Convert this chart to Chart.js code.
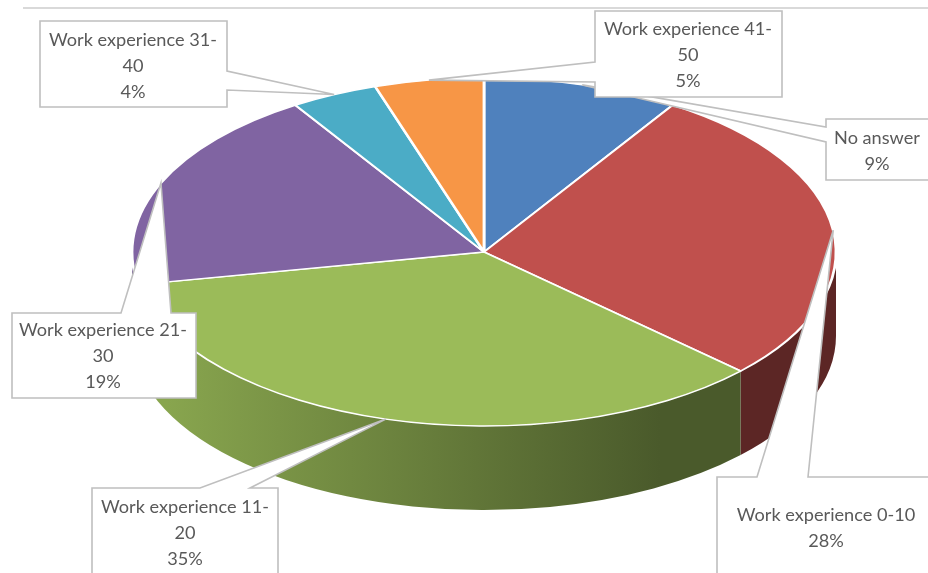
<!DOCTYPE html>
<html><head><meta charset="utf-8">
<script src="https://cdn.jsdelivr.net/npm/chart.js@4.4.0/dist/chart.umd.min.js"></script>
<style>html,body{margin:0;padding:0;background:#fff;overflow:hidden}#wrap{position:relative;width:928px;height:573px}</style>
</head><body><div id="wrap"><canvas id="c" width="928" height="573"></canvas></div>
<script>
// ---- data ----
const categories = ["No answer", "Work experience 0-10", "Work experience 11-20", "Work experience 21-30", "Work experience 31-40", "Work experience 41-50"];
const percentages = [9, 28, 35, 19, 4, 5];
const sliceColors = ["#4f81bd", "#c0504d", "#9bbb59", "#8064a2", "#4bacc6", "#f79646"];

// ---- layout (screen px) ----
const ELL = { cx: 484, cy: 252, rx: 352, ry: 174, depth: 84 };
// callout boxes: x,y,w,h ; pointer side + base range ; text centre x and first-line offset
const callouts = [
  { x: 826, y: 119, w: 110, h: 61, side: "left",  b0: 127, b1: 142, tx: 877, ty: 19 },
  { x: 717, y: 477, w: 260, h: 130, side: "top",  b0: 757, b1: 808, tx: 826, ty: 38 },
  { x: 92,  y: 488, w: 186, h: 110, side: "top",  b0: 200, b1: 250, tx: 185, ty: 19 },
  { x: 12,  y: 313, w: 184, h: 85,  side: "top",  b0: 121, b1: 171, tx: 103, ty: 17 },
  { x: 40,  y: 21,  w: 187, h: 86,  side: "right", b0: 71, b1: 90,  tx: 133, ty: 19 },
  { x: 595, y: 11,  w: 187, h: 86,  side: "left", b0: 62, b1: 82,   tx: 688, ty: 18 }
];
const LINE_H = 26;

function shade(hex, f) {
  const n = parseInt(hex.slice(1), 16);
  const r = Math.round(((n >> 16) & 255) * f), g = Math.round(((n >> 8) & 255) * f), b = Math.round((n & 255) * f);
  return `rgb(${r},${g},${b})`;
}

const pie3d = {
  id: 'pie3d',
  beforeDraw(chart) {
    const ctx = chart.ctx;
    ctx.save();
    ctx.strokeStyle = '#d9d9d9'; ctx.lineWidth = 2;
    ctx.beginPath(); ctx.moveTo(23, 8); ctx.lineTo(928, 8); ctx.stroke();
    ctx.restore();
  },
  beforeDatasetsDraw(chart) {
    const ctx = chart.ctx;
    const meta = chart.getDatasetMeta(0);
    const { cx, cy, rx, ry, depth } = ELL;
    // side walls (front half only)
    meta.data.forEach((arc, i) => {
      const s = Math.max(arc.startAngle, 0), e = Math.min(arc.endAngle, Math.PI);
      if (e <= s) return;
      const g = ctx.createLinearGradient(cx - rx * 0.9, 0, cx + rx * 0.5, 0);
      g.addColorStop(0, shade(sliceColors[i], 0.88));
      g.addColorStop(1, shade(sliceColors[i], 0.48));
      ctx.save();
      ctx.beginPath();
      ctx.ellipse(cx, cy, rx, ry, 0, s, e, false);
      ctx.ellipse(cx, cy + depth, rx, ry, 0, e, s, true);
      ctx.closePath();
      ctx.fillStyle = g; ctx.fill();
      ctx.restore();
    });
    // squash the top face
    const a = meta.data[0];
    const R = a.outerRadius;
    ctx.save();
    ctx.translate(cx, cy);
    ctx.scale(rx / R, ry / R);
    ctx.translate(-a.x, -a.y);
  },
  afterDatasetsDraw(chart) {
    chart.ctx.restore();
  },
  afterDraw(chart) {
    const ctx = chart.ctx;
    const meta = chart.getDatasetMeta(0);
    const { cx, cy, rx, ry } = ELL;
    const fam = "Lato, 'Open Sans', sans-serif";
    ctx.save();
    ctx.font = `18px ${fam}`;
    const w18 = ctx.measureText("Work experience 31-").width;
    const fs = 18 * 168 / w18;
    ctx.font = `${fs}px ${fam}`;
    meta.data.forEach((arc, i) => {
      const c = callouts[i];
      const mid = (arc.startAngle + arc.endAngle) / 2;
      const tipX = cx + rx * Math.cos(mid), tipY = cy + ry * Math.sin(mid);
      ctx.beginPath();
      const { x, y, w, h } = c;
      if (c.side === 'top') {
        ctx.moveTo(x, y); ctx.lineTo(c.b0, y); ctx.lineTo(tipX, tipY); ctx.lineTo(c.b1, y);
        ctx.lineTo(x + w, y); ctx.lineTo(x + w, y + h); ctx.lineTo(x, y + h);
      } else if (c.side === 'left') {
        ctx.moveTo(x, y); ctx.lineTo(x + w, y); ctx.lineTo(x + w, y + h); ctx.lineTo(x, y + h);
        ctx.lineTo(x, c.b1); ctx.lineTo(tipX, tipY); ctx.lineTo(x, c.b0);
      } else {
        ctx.moveTo(x, y); ctx.lineTo(x + w, y); ctx.lineTo(x + w, c.b0); ctx.lineTo(tipX, tipY);
        ctx.lineTo(x + w, c.b1); ctx.lineTo(x + w, y + h); ctx.lineTo(x, y + h);
      }
      ctx.closePath();
      ctx.fillStyle = '#ffffff'; ctx.fill();
      ctx.strokeStyle = '#bfbfbf'; ctx.lineWidth = 1.6; ctx.stroke();
      // text lines: wrap category at hyphen if it does not fit
      const name = categories[i];
      let lines = [name];
      if (ctx.measureText(name).width > w - 12) {
        const k = name.lastIndexOf('-') + 1;
        lines = [name.slice(0, k), name.slice(k)];
      }
      lines.push(percentages[i] + '%');
      ctx.fillStyle = '#595959'; ctx.textAlign = 'center'; ctx.textBaseline = 'middle';
      lines.forEach((t, j) => ctx.fillText(t, c.tx, y + c.ty + j * LINE_H));
    });
    ctx.restore();
  }
};

new Chart(document.getElementById('c'), {
  type: 'pie',
  data: {
    labels: categories,
    datasets: [{ data: percentages, backgroundColor: sliceColors, borderColor: '#ffffff', borderWidth: 2.2, clip: false }]
  },
  options: {
    responsive: false, animation: false, devicePixelRatio: 1, events: [],
    layout: { padding: 10 },
    plugins: { legend: { display: false }, tooltip: { enabled: false } }
  },
  plugins: [pie3d]
});
</script></body></html>
